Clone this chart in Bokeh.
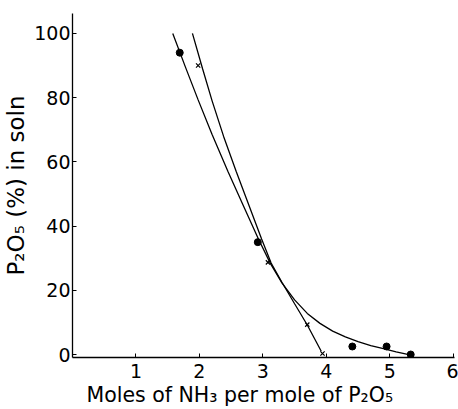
from bokeh.plotting import figure
from bokeh.models import FixedTicker, Range1d, Title
from bokeh.embed import file_html
from bokeh.resources import INLINE

# Data points (filled dots)
dot_x = [1.69, 2.92, 4.41, 4.95, 5.33]
dot_y = [94, 35, 2.5, 2.5, 0]
# Data points (crosses)
cross_x = [1.98, 3.08, 3.70, 3.94]
cross_y = [90, 28.7, 9.3, 0.3]

# Hand-drawn curves
dot_curve_x = [1.58, 1.78, 1.98, 2.20, 2.45, 2.70, 2.93, 3.12, 3.30, 3.50, 3.70, 3.90,
               4.10, 4.30, 4.50, 4.70, 4.90, 5.10, 5.30]
dot_curve_y = [100, 89.5, 79.3, 68.5, 57, 46, 36, 28.3, 22.3, 17, 12.8, 9.7,
               7.3, 5.5, 4.0, 2.8, 1.8, 0.8, 0]
cross_curve_x = [1.89, 2.05, 2.20, 2.38, 2.58, 2.78, 2.98, 3.13, 3.30, 3.50, 3.70, 3.92]
cross_curve_y = [100, 89, 79, 68, 57, 46.5, 36, 28.5, 22.5, 15.8, 9.2, 1.0]

x_ticks = [1, 2, 3, 4, 5, 6]
y_ticks = [0, 20, 40, 60, 80, 100]

FONT = "DejaVu Sans"

p = figure(width=458, height=409, output_backend="svg", toolbar_location=None,
           x_range=Range1d(0, 6.02), y_range=Range1d(-0.93, 106.2),
           min_border_left=70, min_border_right=4, min_border_top=13, min_border_bottom=52)
p.outline_line_color = None
p.grid.visible = False
p.background_fill_color = "white"

p.line(dot_curve_x, dot_curve_y, line_color="black", line_width=1.3)
p.line(cross_curve_x, cross_curve_y, line_color="black", line_width=1.3)
p.scatter(dot_x, dot_y, marker="circle", size=7, fill_color="black", line_color="black")
p.scatter(cross_x, cross_y, marker="x", size=6, line_color="black", line_width=1.2)

p.xaxis.ticker = FixedTicker(ticks=x_ticks)
p.yaxis.ticker = FixedTicker(ticks=y_ticks)
for ax in (p.xaxis, p.yaxis):
    ax.axis_line_color = "black"
    ax.axis_line_width = 1.3
    ax.major_tick_in = 4
    ax.major_tick_out = 0
    ax.minor_tick_line_color = None
    ax.major_label_text_font = FONT
    ax.major_label_text_font_size = "19px"
    ax.major_label_text_color = "black"
    ax.axis_label_text_font = FONT
    ax.axis_label_text_font_style = "normal"
    ax.axis_label_text_color = "black"

p.xaxis.major_label_standoff = 6
p.yaxis.major_label_standoff = 2
p.yaxis.axis_label = "P\u2082O\u2085 (%) in soln"
p.yaxis.axis_label_text_font_size = "23px"
p.yaxis.axis_label_standoff = 2

xtitle = Title(text="Moles of NH\u2083 per mole of P\u2082O\u2085", align="left", offset=14,
               text_font=FONT, text_font_size="20.5px", text_font_style="normal",
               text_color="black", standoff=0)
p.add_layout(xtitle, "below")

open("out.html", "w").write(file_html(p, INLINE))
